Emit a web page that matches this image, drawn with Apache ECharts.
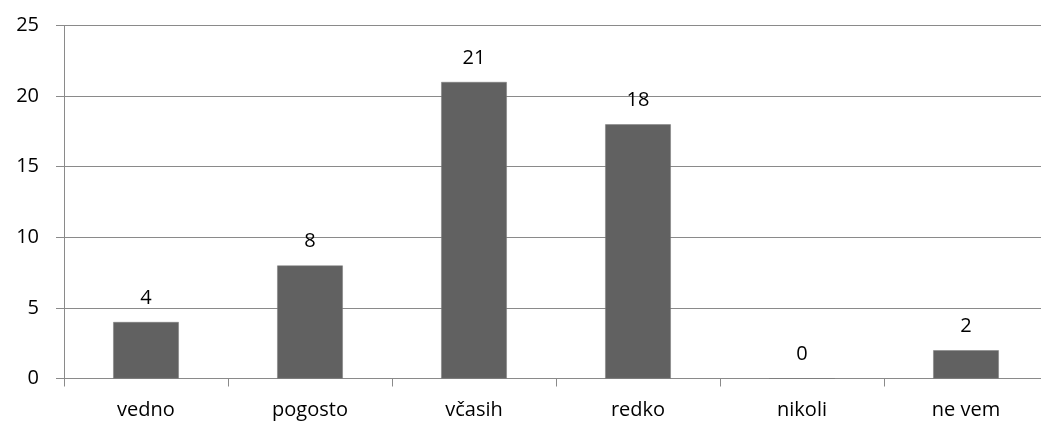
<!DOCTYPE html>
<html>
<head>
<meta charset="utf-8">
<script src="https://cdn.jsdelivr.net/npm/echarts@6/dist/echarts.min.js"></script>
<style>
  html, body { margin: 0; padding: 0; background: #fff; overflow: hidden; }
  /* the original plot runs a few pixels past the right edge of the picture */
  #chart { width: 1052px; height: 426px; }
</style>
</head>
<body>
<div id="chart"></div>
<script>
const categories = ['vedno', 'pogosto', 'včasih', 'redko', 'nikoli', 'ne vem'];
const counts = [4, 8, 21, 18, 0, 2];
const yTicks = [0, 5, 10, 15, 20, 25];

const chart = echarts.init(document.getElementById('chart'));
const lineColor = '#8a8a8a';
const font = '"Open Sans", "Noto Sans", sans-serif';

chart.setOption({
  animation: false,
  grid: { left: 64, width: 984, top: 25.5, height: 353, containLabel: false },
  xAxis: {
    type: 'category',
    data: categories,
    axisLine: { show: true, lineStyle: { color: lineColor, width: 1 } },
    axisTick: { show: true, alignWithLabel: false, length: 8, lineStyle: { color: lineColor } },
    axisLabel: { color: '#000', fontFamily: font, fontSize: 20, margin: 22 }
  },
  yAxis: {
    type: 'value',
    min: yTicks[0],
    max: yTicks[yTicks.length - 1],
    interval: 5,
    axisLine: { show: true, lineStyle: { color: lineColor, width: 1 } },
    axisTick: { show: true, length: 8, lineStyle: { color: lineColor } },
    splitLine: { show: true, lineStyle: { color: lineColor, width: 1 } },
    axisLabel: { color: '#000', fontFamily: font, fontSize: 20, margin: 25 }
  },
  series: [{
    type: 'bar',
    data: counts,
    barWidth: '40%',
    itemStyle: { color: '#616161', borderColor: '#7a7a7a', borderWidth: 0.5 },
    label: {
      show: true,
      position: 'top',
      distance: 14,
      color: '#000',
      fontFamily: font,
      fontSize: 20
    }
  }]
});
</script>
</body>
</html>
